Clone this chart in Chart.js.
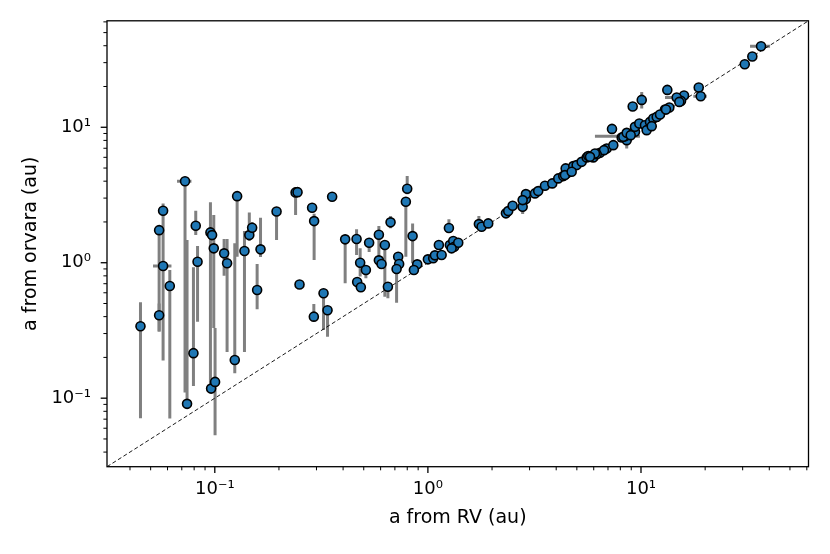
<!DOCTYPE html>
<html>
<head>
<meta charset="utf-8">
<script src="https://cdn.jsdelivr.net/npm/chart.js@4.4.0/dist/chart.umd.min.js"></script>
<style>
html,body{margin:0;padding:0;background:#ffffff;}
#wrap{width:830px;height:554px;position:relative;}
</style>
</head>
<body>
<div id="wrap"><canvas id="c" width="830" height="554"></canvas></div>
<script>
// ---- data ----
// semi-major axis from RV (x) and from orvara (y), in au
const rvA = [
 0.0448,0.0548,0.0548,0.0572,0.0572,0.0615,0.0725,0.0741,0.0794,0.0814,
 0.0830,0.0954,0.0971,0.0989,0.0961,0.1003,0.1106,0.1142,0.1241,0.1273,
 0.1378,0.1452,0.1497,0.158,0.1639,0.1949,0.2394,0.2445,0.2498,0.2862,
 0.2925,0.2916,0.3238,0.3381,0.3554,0.409,0.4627,0.530,0.481,0.5117,
 0.4657,0.4846,0.5888,0.628,0.5888,0.606,0.668,0.649,0.7254,0.733,
 0.713,0.7996,0.788,0.8477,0.891,0.8596,1.0,1.059,1.079,1.126,
 1.16,1.255,1.268,1.315,1.329,1.388,1.292,1.735,1.787,1.919,
 2.324,2.382,2.498,2.784,2.884,2.884,2.784,3.179,3.294,3.543,
 3.833,4.09,4.317,4.479,4.431,4.81,4.99,4.397,4.728,5.268,
 5.561,5.657,5.971,6.42,6.902,7.413,6.704,6.194,8.118,8.626,
 8.57,8.414,9.37,36.59,33.3,30.68,18.66,19.07,15.92,15.41,
 14.71,15.13,13.29,13.58,12.96,10.08,9.142,7.31,8.26,8.57,
 8.947,9.37,9.818,10.44,11.02,11.42,10.63,11.23,11.85,12.28,
 13.1,6.08,5.763
];
const orvaraA = [
 0.340,1.74,0.409,2.42,0.946,0.673,4.00,0.0908,0.215,1.875,
 1.017,1.675,1.60,1.277,0.1177,0.1319,1.173,0.990,0.1916,3.10,
 1.22,1.60,1.812,0.629,1.255,2.386,3.305,3.32,0.691,2.545,
 2.03,0.3997,0.5948,0.4457,3.066,1.488,1.496,1.404,1.0,0.884,
 0.721,0.659,1.609,1.351,1.041,0.978,1.986,0.665,1.107,0.978,
 0.899,3.513,2.818,1.573,0.973,0.884,1.059,1.078,1.134,1.351,
 1.14,1.803,1.351,1.445,1.312,1.404,1.277,1.929,1.843,1.952,
 2.314,2.406,2.633,2.588,2.95,3.212,2.90,3.25,3.379,3.697,
 3.85,4.194,4.359,4.564,4.969,5.167,5.255,4.434,4.69,5.556,
 5.99,6.124,5.99,6.475,6.977,7.379,6.778,6.333,8.41,9.0,
 8.034,8.597,9.25,39.63,33.27,29.2,19.66,16.96,17.16,15.65,
 16.59,15.39,18.87,14.0,13.53,15.92,14.24,9.73,8.497,9.093,
 8.745,10.07,10.67,10.36,10.96,11.61,9.52,10.19,11.93,12.43,
 13.53,6.41,6.05
];
// error-bar bounds (null = no visible bar)
const orvaraLo = [
 0.071,0.31,0.31,1.0,0.19,0.0708,0.11,0.0834,0.123,1.6,
 0.367,0.109,null,0.33,null,0.0533,0.802,0.2195,0.1529,1.107,
 0.2195,1.45,1.6,0.453,1.1,1.47,2.25,null,null,null,
 1.047,0.38,0.319,0.2846,null,0.705,1.14,1.2,0.79,0.767,
 null,null,1.047,0.5614,null,null,1.8,0.5464,null,null,
 0.507,3.2,1.107,0.99,null,null,null,null,null,null,
 null,1.7,null,null,null,null,1.2,1.85,null,null,
 null,null,null,2.286,null,null,null,null,null,null,
 null,null,null,null,null,null,null,null,null,null,
 null,null,null,null,null,null,null,null,null,null,
 6.98,null,null,null,null,null,null,null,null,null,
 null,null,null,null,null,13.76,null,null,null,null,
 null,null,null,null,null,null,null,null,null,null,
 null,null,null
];
const orvaraHi = [
 0.51,1.85,0.50,2.74,1.0,0.884,4.2,1.47,0.925,2.42,
 1.33,2.79,null,2.247,null,0.33,1.496,1.496,1.39,3.2,
 1.713,2.35,2.0,0.978,2.147,2.5,3.6,null,null,null,
 2.3,0.496,0.62,0.47,null,1.55,1.763,1.5,1.28,0.92,
 null,null,1.865,1.4,null,null,2.21,0.705,null,null,
 0.95,4.36,3.0,1.952,null,null,null,null,null,null,
 null,2.09,null,null,null,null,1.36,2.21,null,null,
 null,null,null,2.7,null,null,null,null,null,null,
 null,null,null,null,null,null,null,null,null,null,
 null,null,null,null,null,null,null,null,null,null,
 9.0,null,null,null,null,null,null,null,null,null,
 null,null,null,null,null,18.24,null,null,null,null,
 null,null,null,null,null,null,null,null,null,null,
 null,null,null
];
const rvLo = [
 null,null,null,null,0.0513,null,0.0665,null,null,null,
 null,null,null,null,null,null,null,null,null,null,
 null,null,null,null,null,null,null,null,null,null,
 null,null,null,null,null,null,null,null,null,null,
 null,null,null,null,null,null,null,null,null,null,
 null,null,null,null,null,null,null,null,null,null,
 null,null,null,null,null,null,null,null,null,null,
 null,null,null,null,null,null,null,null,null,null,
 null,null,null,null,null,null,null,null,null,null,
 null,null,null,null,null,null,null,null,null,null,
 null,6.08,null,32.48,null,null,null,17.6,null,null,
 12.96,null,null,null,null,null,null,null,null,null,
 null,null,null,null,null,null,null,null,null,null,
 null,null,null
];
const rvHi = [
 null,null,null,null,0.0626,null,0.0777,null,null,null,
 null,null,null,null,null,null,null,null,null,null,
 null,null,null,null,null,null,null,null,null,null,
 null,null,null,null,null,null,null,null,null,null,
 null,null,null,null,null,null,null,null,null,null,
 null,null,null,null,null,null,null,null,null,null,
 null,null,null,null,null,null,null,null,null,null,
 null,null,null,null,null,null,null,null,null,null,
 null,null,null,null,null,null,null,null,null,null,
 null,null,null,null,null,null,null,null,null,null,
 null,9.89,null,40.33,null,null,null,20.35,null,null,
 16.09,null,null,null,null,null,null,null,null,null,
 null,null,null,null,null,null,null,null,null,null,
 null,null,null
];
// axes
const axisMin = 0.0312, axisMax = 61.1;
const majorTicks = [0.1, 1, 10];
const majorLabels = ['10\u207B\u00B9', '10\u2070', '10\u00B9'];
const minorTicks = [0.04,0.05,0.06,0.07,0.08,0.09,0.2,0.3,0.4,0.5,0.6,0.7,0.8,0.9,
                    2,3,4,5,6,7,8,9,20,30,40,50,60];
const xTitle = 'a from RV (au)';
const yTitle = 'a from orvara (au)';

// ---- drawing ----
const FONT = 'DejaVu Sans';
const points = rvA.map((x, i) => ({x: x, y: orvaraA[i]}));
const diagonal = [{x: axisMin, y: axisMin}, {x: axisMax, y: axisMax}];

const errorBarPlugin = {
  id: 'errorBars',
  beforeDatasetsDraw(chart) {
    const {ctx, chartArea: a, scales: {x, y}} = chart;
    ctx.save();
    ctx.beginPath();
    ctx.rect(a.left, a.top, a.right - a.left, a.bottom - a.top);
    ctx.clip();
    ctx.strokeStyle = '#808080';
    ctx.lineWidth = 3;
    ctx.lineCap = 'butt';
    for (let i = 0; i < rvA.length; i++) {
      const px = x.getPixelForValue(rvA[i]);
      const py = y.getPixelForValue(orvaraA[i]);
      if (orvaraLo[i] !== null && orvaraHi[i] !== null) {
        ctx.beginPath();
        ctx.moveTo(px, y.getPixelForValue(orvaraLo[i]));
        ctx.lineTo(px, y.getPixelForValue(orvaraHi[i]));
        ctx.stroke();
      }
      if (rvLo[i] !== null && rvHi[i] !== null) {
        ctx.beginPath();
        ctx.moveTo(x.getPixelForValue(rvLo[i]), py);
        ctx.lineTo(x.getPixelForValue(rvHi[i]), py);
        ctx.stroke();
      }
    }
    ctx.restore();
  }
};

const frameTickPlugin = {
  id: 'frameTicks',
  afterDraw(chart) {
    const {ctx, chartArea: a, scales: {x, y}} = chart;
    ctx.save();
    ctx.strokeStyle = '#000';
    const tick = (isX, v, len, w) => {
      ctx.lineWidth = w;
      ctx.beginPath();
      if (isX) {
        const p = x.getPixelForValue(v);
        ctx.moveTo(p, a.bottom); ctx.lineTo(p, a.bottom + len);
      } else {
        const p = y.getPixelForValue(v);
        ctx.moveTo(a.left, p); ctx.lineTo(a.left - len, p);
      }
      ctx.stroke();
    };
    majorTicks.forEach(v => { tick(true, v, 6.3, 1.3); tick(false, v, 6.3, 1.3); });
    minorTicks.forEach(v => {
      if (v > axisMin && v < axisMax) { tick(true, v, 3.6, 1.0); tick(false, v, 3.6, 1.0); }
    });
    ctx.lineWidth = 1.3;
    ctx.strokeRect(a.left, a.top, a.right - a.left, a.bottom - a.top);
    ctx.restore();
  }
};

const labelFor = (v) => {
  const k = majorTicks.findIndex(m => Math.abs(m - v) / m < 1e-6);
  return k >= 0 ? majorLabels[k] : '';
};

new Chart(document.getElementById('c'), {
  type: 'scatter',
  data: {
    datasets: [
      {
        data: points,
        backgroundColor: '#1f77b4',
        borderColor: '#000000',
        borderWidth: 1.6,
        pointRadius: 4.5,
        pointHoverRadius: 4.5,
        order: 0
      },
      {
        data: diagonal,
        showLine: true,
        borderColor: '#000000',
        borderWidth: 0.9,
        borderDash: [4, 2.5],
        pointRadius: 0,
        fill: false,
        order: 1
      }
    ]
  },
  options: {
    responsive: false,
    animation: false,
    devicePixelRatio: 1,
    layout: {padding: {left: 0, right: 21.5, top: 20.7, bottom: 0}},
    plugins: {legend: {display: false}, tooltip: {enabled: false}},
    scales: {
      x: {
        type: 'logarithmic',
        bounds: 'data',
        min: axisMin,
        max: axisMax,
        afterBuildTicks: (s) => { s.ticks = majorTicks.map(v => ({value: v, major: true})); },
        afterFit: (s) => { s.height = 554 - 466.7; },
        ticks: {
          callback: (v) => labelFor(v),
          autoSkip: false, maxRotation: 0, minRotation: 0,
          font: {family: FONT, size: 18}, color: '#000', padding: 5.5
        },
        grid: {display: true, drawOnChartArea: false, drawTicks: true, tickLength: 6, color: 'rgba(0,0,0,0)'},
        border: {display: false},
        title: {display: true, text: xTitle, color: '#000',
                font: {family: FONT, size: 19}, padding: {top: 0, bottom: 24.6}}
      },
      y: {
        type: 'logarithmic',
        bounds: 'data',
        min: axisMin,
        max: axisMax,
        afterBuildTicks: (s) => { s.ticks = majorTicks.map(v => ({value: v, major: true})); },
        afterFit: (s) => { s.width = 107; },
        ticks: {
          callback: (v) => labelFor(v),
          autoSkip: false,
          font: {family: FONT, size: 18}, color: '#000', padding: 10
        },
        grid: {display: true, drawOnChartArea: false, drawTicks: true, tickLength: 6, color: 'rgba(0,0,0,0)'},
        border: {display: false},
        title: {display: true, text: yTitle, color: '#000',
                font: {family: FONT, size: 19}, padding: {top: 20, bottom: 0}}
      }
    }
  },
  plugins: [errorBarPlugin, frameTickPlugin]
});
</script>
</body>
</html>
